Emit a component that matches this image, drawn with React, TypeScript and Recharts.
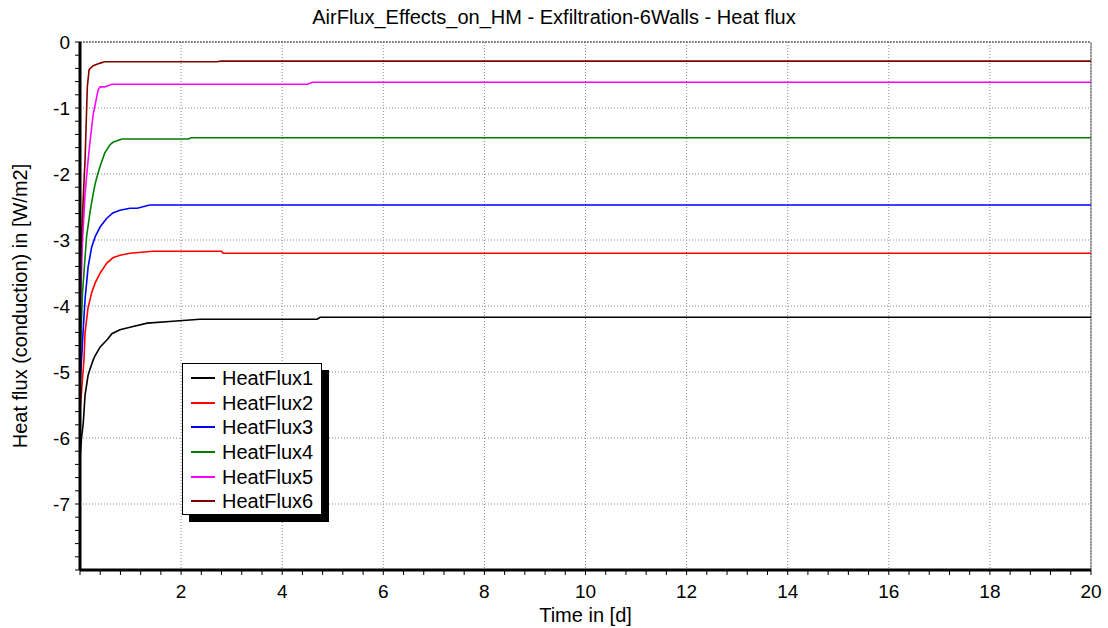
import React from "react";
import {
  LineChart,
  Line,
  XAxis,
  YAxis,
  CartesianGrid,
  ReferenceLine,
} from "recharts";

// time in days, heat flux in W/m2
const hf1Time = [0, 0.03, 0.065, 0.1, 0.16, 0.2, 0.26, 0.3, 0.4, 0.55, 0.63, 0.79, 1.05, 1.33, 1.84, 2.37, 4.69, 4.75, 20];
const hf1Value = [-6.3, -6.0, -5.77, -5.35, -5.05, -4.95, -4.82, -4.75, -4.62, -4.5, -4.42, -4.36, -4.31, -4.26, -4.23, -4.2, -4.2, -4.17, -4.17];

const hf2Time = [0, 0.04, 0.08, 0.1, 0.16, 0.2, 0.23, 0.3, 0.4, 0.53, 0.65, 0.79, 0.99, 1.44, 2.8, 2.83, 20];
const hf2Value = [-5.6, -5.2, -4.8, -4.4, -4.02, -3.9, -3.8, -3.65, -3.5, -3.35, -3.27, -3.23, -3.2, -3.17, -3.17, -3.2, -3.2];

const hf3Time = [0, 0.03, 0.06, 0.1, 0.16, 0.23, 0.3, 0.4, 0.53, 0.65, 0.79, 0.99, 1.13, 1.38, 20];
const hf3Value = [-5.2, -4.82, -4.4, -3.9, -3.41, -3.11, -2.95, -2.8, -2.67, -2.59, -2.55, -2.52, -2.52, -2.47, -2.47];

const hf4Time = [0, 0.05, 0.1, 0.13, 0.2, 0.26, 0.3, 0.34, 0.4, 0.49, 0.59, 0.65, 0.83, 2.14, 2.2, 20];
const hf4Value = [-4.8, -3.8, -3.26, -2.95, -2.57, -2.3, -2.15, -2.03, -1.88, -1.68, -1.56, -1.52, -1.47, -1.47, -1.45, -1.45];

const hf5Time = [0, 0.05, 0.1, 0.16, 0.2, 0.26, 0.3, 0.36, 0.4, 0.49, 0.63, 4.5, 4.6, 20];
const hf5Value = [-4.2, -3.0, -2.3, -1.79, -1.5, -1.1, -0.95, -0.72, -0.68, -0.68, -0.64, -0.64, -0.61, -0.61];

const hf6Time = [0, 0.05, 0.08, 0.1, 0.145, 0.18, 0.26, 0.4, 0.49, 2.7, 2.8, 20];
const hf6Value = [-3.5, -2.6, -2.1, -1.79, -0.68, -0.42, -0.36, -0.32, -0.3, -0.3, -0.29, -0.29];

const seriesNames = ["HeatFlux1", "HeatFlux2", "HeatFlux3", "HeatFlux4", "HeatFlux5", "HeatFlux6"];
const seriesColors = ["#000000", "#ff0000", "#0000ff", "#008000", "#ff00ff", "#800000"];

const xMajorTicks = [2, 4, 6, 8, 10, 12, 14, 16, 18, 20];
const yMajorTicks = [0, -1, -2, -3, -4, -5, -6, -7];

// minor tick marks: every 0.4 d on x, every 0.2 W/m2 on y
const xMinorTicks: number[] = [];
for (let i = 0; i <= 50; i++) xMinorTicks.push(Math.round(i * 4) / 10);
const yMinorTicks: number[] = [];
for (let i = 0; i <= 40; i++) yMinorTicks.push(-Math.round(i * 2) / 10);

const FONT = "'Liberation Sans', Arial, sans-serif";

const toPoints = (t: number[], v: number[]) => t.map((x, i) => ({ t: x, v: v[i] }));

const series = [
  toPoints(hf1Time, hf1Value),
  toPoints(hf2Time, hf2Value),
  toPoints(hf3Time, hf3Value),
  toPoints(hf4Time, hf4Value),
  toPoints(hf5Time, hf5Value),
  toPoints(hf6Time, hf6Value),
];

const isMajor = (v: number, list: number[]) => list.some((m) => Math.abs(m - v) < 1e-6);

const XTick = (props: any) => {
  const { x, y, payload } = props;
  if (!isMajor(payload.value, xMajorTicks)) return <g />;
  return (
    <text x={x} y={y + 21} textAnchor="middle" fontSize={19} fontFamily={FONT} fill="#000">
      {payload.value}
    </text>
  );
};

const YTick = (props: any) => {
  const { x, y, payload } = props;
  if (!isMajor(payload.value, yMajorTicks)) return <g />;
  return (
    <text x={x - 3} y={y + 7} textAnchor="end" fontSize={19} fontFamily={FONT} fill="#000">
      {payload.value}
    </text>
  );
};

// legend box with drop shadow, drawn over the plot like in the original
const LegendBox = () => (
  <div
    style={{
      position: "absolute",
      left: 182,
      top: 363,
      width: 138,
      height: 148,
      border: "1px solid #000",
      background: "#fff",
      boxShadow: "7px 7px 0 #000",
      paddingTop: 2,
      boxSizing: "content-box",
    }}
  >
    {seriesNames.map((name, i) => (
      <div key={name} style={{ display: "flex", alignItems: "center", height: 24.6 }}>
        <div style={{ width: 24, height: 2, background: seriesColors[i], marginLeft: 8, marginRight: 7 }} />
        <span style={{ fontFamily: FONT, fontSize: 20, color: "#000", lineHeight: "24px" }}>{name}</span>
      </div>
    ))}
  </div>
);

export default function App() {
  return (
    <div style={{ position: "absolute", left: 0, top: 0, width: 1108, height: 628, background: "#fff" }}>
      <div
        style={{
          position: "absolute",
          top: 6,
          left: 0,
          width: 1108,
          textAlign: "center",
          fontFamily: FONT,
          fontSize: 20,
          color: "#000",
        }}
      >
        AirFlux_Effects_on_HM - Exfiltration-6Walls - Heat flux
      </div>
      <LineChart width={1108} height={628} margin={{ top: 42, right: 17, bottom: 0, left: 0 }}>
        <CartesianGrid
          horizontalValues={yMajorTicks}
          verticalValues={xMajorTicks}
          stroke="#8a8a8a"
          strokeDasharray="1 2"
        />
        <XAxis
          type="number"
          dataKey="t"
          domain={[0, 20]}
          ticks={xMinorTicks}
          allowDataOverflow
          height={58}
          tick={<XTick />}
          tickSize={5}
          tickMargin={2}
          interval={0}
          axisLine={{ stroke: "#000", strokeWidth: 3 }}
          tickLine={{ stroke: "#000" }}
          label={{ value: "Time in [d]", position: "insideBottom", offset: 6, fontSize: 20, fontFamily: FONT, fill: "#000" }}
        />
        <YAxis
          type="number"
          dataKey="v"
          domain={[-8, 0]}
          ticks={yMinorTicks}
          allowDataOverflow
          width={80}
          tick={<YTick />}
          tickSize={5}
          tickMargin={2}
          interval={0}
          axisLine={{ stroke: "#000", strokeWidth: 3 }}
          tickLine={{ stroke: "#000" }}
          label={{ value: "Heat flux (conduction) in [W/m2]", angle: -90, position: "insideLeft", offset: 20, fontSize: 20, fontFamily: FONT, fill: "#000", style: { textAnchor: "middle" } }}
        />
        <ReferenceLine y={0} stroke="#333" strokeDasharray="2 1" />
        <ReferenceLine x={20} stroke="#333" strokeDasharray="2 1" />
        {series.map((pts, i) => (
          <Line
            key={seriesNames[i]}
            data={pts}
            dataKey="v"
            name={seriesNames[i]}
            type="linear"
            stroke={seriesColors[i]}
            strokeWidth={1.6}
            dot={false}
            activeDot={false}
            isAnimationActive={false}
          />
        ))}
      </LineChart>
      <LegendBox />
    </div>
  );
}
